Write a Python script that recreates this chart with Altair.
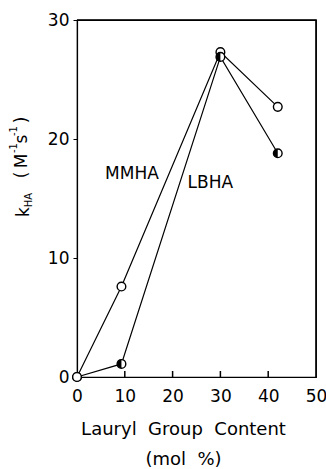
import altair as alt
import pandas as pd

# data
x_vals = [0, 9.3, 30, 42]
mmha_vals = [0, 7.6, 27.3, 22.7]
lbha_vals = [0, 1.1, 26.9, 18.8]
tick_vals = [10, 20, 30, 40]
frame_x = [0, 50, 50]
frame_y = [30, 30, 0]
FONT = "DejaVu Sans"

df = pd.DataFrame({
    "x": x_vals * 2,
    "y": mmha_vals + lbha_vals,
    "series": ["MMHA"] * 4 + ["LBHA"] * 4,
})
half = pd.DataFrame({"x": x_vals[1:], "y": lbha_vals[1:]})

xs = alt.Scale(domain=[0, 50], nice=False, zero=False)
ys = alt.Scale(domain=[0, 30], nice=False, zero=False)

X = alt.X("x:Q", scale=xs, axis=alt.Axis(
    values=[0, 10, 20, 30, 40, 50], ticks=False, grid=False, labelPadding=11,
    labelFlush=False, labelOverlap=False,
    labelFontSize=17, labelColor="black", labelFont=FONT,
    domainColor="black", domainWidth=1.2,
    title=["Lauryl\u00a0\u00a0Group\u00a0\u00a0Content", "(mol\u00a0\u00a0%)"], titleFont=FONT,
    titleFontSize=18, titleFontWeight="normal", titleColor="black",
    titlePadding=16, titleLineHeight=30, titleX=106))
Y = alt.Y("y:Q", scale=ys, axis=alt.Axis(
    values=[0, 10, 20, 30], tickSize=4, tickColor="black", grid=False,
    labelFlush=False, labelOverlap=False,
    labelPadding=4, labelFontSize=17, labelColor="black", labelFont=FONT,
    domainColor="black", domainWidth=1.2, title=None))

base = alt.Chart(df)

# top and right frame as a polyline
frame = alt.Chart(pd.DataFrame({"x": frame_x, "y": frame_y, "o": [0, 1, 2]})).mark_line(
    stroke="#000000", strokeWidth=1.5, strokeOpacity=1).encode(
    x=alt.X("x:Q", scale=xs), y=alt.Y("y:Q", scale=ys), order="o:Q")

# inward x ticks
ticks = alt.Chart(pd.DataFrame({"t": tick_vals})).mark_rule(
    stroke="#000000", strokeWidth=1.5, strokeOpacity=1).encode(
    x=alt.X("t:Q", scale=xs), y=alt.value(357), y2=alt.value(351))

lines = base.mark_line(color="black", strokeWidth=1.2).encode(x=X, y=Y, detail="series:N")
pts = base.mark_point(shape="circle", filled=True, fill="white", stroke="black",
                      strokeWidth=1.4, size=75, opacity=1).encode(x=X, y=Y)
halfpts = alt.Chart(half).mark_point(
    shape="M 0 -1 A 1 1 0 0 0 0 1 Z", filled=True, fill="black",
    strokeWidth=0, size=75, opacity=1).encode(x=X, y=Y)

labels = alt.Chart(pd.DataFrame({
    "x": [11.5, 27.9], "y": [17.1, 16.3], "t": ["MMHA", "LBHA"]})).mark_text(
    font=FONT, fontSize=17, color="black").encode(
    x=alt.X("x:Q", scale=xs), y=alt.Y("y:Q", scale=ys), text="t:N")

# y-axis title "k_HA (M^-1 s^-1)" built from rotated pieces
def piece(txt, px, py, size):
    return alt.Chart(pd.DataFrame({"t": [txt]})).mark_text(
        font=FONT, fontSize=size, color="black", angle=270).encode(
        x=alt.value(px), y=alt.value(py), text="t:N")

ytitle = [
    piece("k", -53, 192, 17), piece("HA", -48, 180, 10),
    piece("(", -55, 155, 17), piece("M", -55, 141, 17), piece("-1", -63, 128, 10),
    piece("s", -55, 119, 17), piece("-1", -63, 111, 10), piece(")", -55, 100, 17),
]

chart = alt.layer(lines, frame, ticks, pts, halfpts, labels, *ytitle).properties(
    width=239, height=357,
    autosize=alt.AutoSizeParams(type="none"),
    padding={"left": 77, "top": 20, "right": 10, "bottom": 92},
).configure(background="white", view=alt.ViewConfig(stroke="black", strokeWidth=1.2))

chart.save("out.html", embed_options={"renderer": "svg", "actions": False})
